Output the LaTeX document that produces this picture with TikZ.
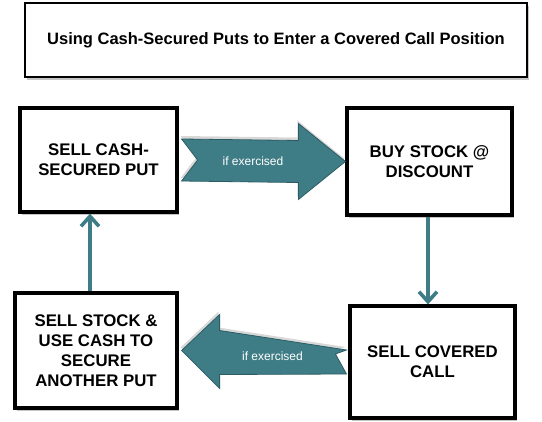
\documentclass[tikz,border=0pt]{standalone}
\usepackage{fontspec}
\setmainfont{Liberation Sans}
\usetikzlibrary{arrows.meta,shadows}

\definecolor{tealfill}{HTML}{3F7D86}
\definecolor{tealedge}{HTML}{2B5C63}

\tikzset{
    stepbox/.style={draw=black, line width=3.2pt, fill=white, align=center,
        font=\bfseries\fontsize{16.8}{20}\selectfont,
        drop shadow={shadow xshift=2pt, shadow yshift=-3pt, opacity=0.45}},
    titlebox/.style={draw=black, line width=2.6pt, fill=white,
        minimum width=502pt, minimum height=74pt,
        font=\bfseries\fontsize{16.5}{19}\selectfont,
        drop shadow={shadow xshift=2pt, shadow yshift=-3pt, opacity=0.45}},
    bigarrow/.style={fill=tealfill, draw=tealedge, line width=0.8pt,
        drop shadow={shadow xshift=-1pt, shadow yshift=3pt, opacity=0.3}},
    arrowlabel/.style={text=white, font=\fontsize{12}{14}\selectfont},
    backarrow/.style={draw=tealfill, line width=3.6pt,
        -{Straight Barb[length=10pt,width=18pt]}}
}

\begin{document}
\begin{tikzpicture}[x=1pt, y=-1pt]
    \useasboundingbox[fill=white] (0,0) rectangle (542,422);

    % Title
    \node[titlebox] (title) at (276,40) {Using Cash-Secured Puts to Enter a Covered Call Position};

    % Steps
    \node[stepbox, minimum width=157pt, minimum height=104pt] (put) at (98.5,160) {SELL CASH-\\SECURED PUT};
    \node[stepbox, minimum width=165pt, minimum height=107pt] (buy) at (429.5,161.5) {BUY STOCK @\\DISCOUNT};
    \node[stepbox, minimum width=165pt, minimum height=112pt] (covered) at (432.5,362) {SELL COVERED\\CALL};
    \node[stepbox, minimum width=162pt, minimum height=115pt] (another) at (96,350.5) {SELL STOCK \&\\USE CASH TO\\SECURE\\ANOTHER PUT};

    % Block arrows
    \filldraw[bigarrow] ([shift={(3,-21)}]put.east) -- ([shift={(-47,-21)}]buy.west)
        -- ([shift={(-47,-38)}]buy.west) -- (buy.west) -- ([shift={(-47,38)}]buy.west)
        -- ([shift={(-47,21)}]buy.west) -- ([shift={(3,21)}]put.east)
        -- ([shift={(19,0)}]put.east) -- cycle;
    \path (put.east) -- (buy.west) node[midway, xshift=-9pt, arrowlabel] (lab1) {if exercised};

    \filldraw[bigarrow] ([shift={(-2,-12)}]covered.west) -- ([shift={(41,-20)}]another.east)
        -- ([shift={(41,-36)}]another.east) -- ([shift={(3,0)}]another.east) -- ([shift={(41,38)}]another.east)
        -- ([shift={(41,24)}]another.east) -- ([shift={(-2,12)}]covered.west)
        -- ([shift={(-13,-8)}]covered.west) -- cycle;
    \path (another.east) -- (covered.west) node[midway, xshift=9pt, arrowlabel] (lab2) {if exercised};

    % Thin arrows
    \draw[backarrow] ([xshift=-1.5pt]buy.south) -- ([xshift=-1.5pt]buy.south |- covered.north);
    \draw[backarrow] ([xshift=-6pt]another.north) -- ([xshift=-6pt]another.north |- put.south);
\end{tikzpicture}
\end{document}
